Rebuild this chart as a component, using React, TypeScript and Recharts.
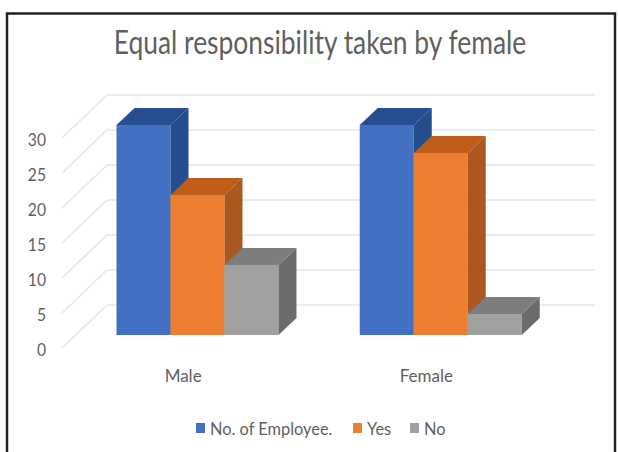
import React from 'react';
import { BarChart, Bar, XAxis, YAxis, CartesianGrid, Legend } from 'recharts';

const categories = ['Male', 'Female'];
const employees = [30, 30];
const yes = [20, 26];
const no = [10, 3];
const yTicks = [0, 5, 10, 15, 20, 25, 30];

const seriesNames = ['No. of Employee.', 'Yes', 'No'];
const seriesColors = [
  { front: '#4270c2', top: '#264f92', side: '#254c8c' },
  { front: '#ed7d31', top: '#c05c17', side: '#ab5820' },
  { front: '#a0a0a0', top: '#7d7d7d', side: '#6c6c6c' },
];

const data = categories.map((name, i) => ({
  name,
  employees: employees[i],
  yes: yes[i],
  no: no[i],
}));

const FONT = 'Lato, sans-serif';
const TEXT = '#5f5f5f';
const DEPTH_X = 18;
const DEPTH_Y = 17;

// front face plus the top and right faces of the extruded column
function Column3D({ x, y, width, height, colors }: any) {
  const r = x + width;
  const b = y + height;
  return (
    <g>
      <rect x={x} y={y} width={width} height={height} fill={colors.front} />
      <polygon
        points={`${x},${y} ${x + DEPTH_X},${y - DEPTH_Y} ${r + DEPTH_X},${y - DEPTH_Y} ${r},${y}`}
        fill={colors.top}
      />
      <polygon
        points={`${r},${y} ${r + DEPTH_X},${y - DEPTH_Y} ${r + DEPTH_X},${b - DEPTH_Y} ${r},${b}`}
        fill={colors.side}
      />
    </g>
  );
}

// side wall diagonal and back wall line for one gridline
function WallLine({ y1 }: any) {
  return (
    <g stroke="#e6e6e6" strokeWidth={1.5} fill="none">
      <line x1={62} y1={y1 + 13} x2={107} y2={y1 - 30} />
      <line x1={107} y1={y1 - 30} x2={595} y2={y1 - 30} />
    </g>
  );
}

function YTick({ y, payload }: any) {
  return (
    <text
      transform={`translate(46,${y + 14}) scale(0.87,1)`}
      textAnchor="end"
      dominantBaseline="central"
      fontFamily={FONT}
      fontSize={18}
      fill={TEXT}
    >
      {payload.value}
    </text>
  );
}

function XTick({ x, payload }: any) {
  return (
    <text x={x - 15} y={375} textAnchor="middle" dominantBaseline="central" fontFamily={FONT} fontSize={17} fill={TEXT}>
      {payload.value}
    </text>
  );
}

function LegendRow() {
  const lefts = [196, 353, 410];
  return (
    <div style={{ position: 'relative', height: 26, fontFamily: FONT, fontSize: 18, color: TEXT }}>
      {seriesNames.map((name, i) => (
        <div key={name} style={{ position: 'absolute', left: lefts[i], top: 0, height: 26, display: 'flex', alignItems: 'center', whiteSpace: 'nowrap' }}>
          <span style={{ width: 9, height: 10, marginRight: 5, background: seriesColors[i].front }} />
          <span style={{ display: 'inline-block', transform: 'scaleX(0.91)', transformOrigin: 'left center' }}>{name}</span>
        </div>
      ))}
    </div>
  );
}

export default function App() {
  return (
    <div style={{ position: 'absolute', left: 0, top: 0, width: 618, height: 452, background: '#fff', overflow: 'hidden' }}>
      <BarChart
        width={618}
        height={452}
        data={data}
        barGap={0}
        barCategoryGap={40}
        margin={{ top: 125, right: 55, bottom: 11, left: 0 }}
      >
        <rect x={7} y={13.5} width={608} height={460} fill="none" stroke="#222" strokeWidth={2.5} />
        <text
          transform="translate(320,41) scale(0.8,1)"
          textAnchor="middle"
          dominantBaseline="central"
          fontFamily={FONT}
          fontSize={33}
          fill={TEXT}
        >
          Equal responsibility taken by female
        </text>
        <CartesianGrid vertical={false} horizontal={(props: any) => <WallLine key={props.y1} {...props} />} />
        <XAxis dataKey="name" height={80} axisLine={false} tickLine={false} tick={<XTick />} />
        <YAxis width={76.5} domain={[0, 30]} ticks={yTicks} interval={0} axisLine={false} tickLine={false} tick={<YTick />} />
        <Legend height={26} verticalAlign="bottom" wrapperStyle={{ left: 0, width: 618 }} content={<LegendRow />} />
        <Bar dataKey="employees" isAnimationActive={false} shape={(p: any) => <Column3D {...p} colors={seriesColors[0]} />} />
        <Bar dataKey="yes" isAnimationActive={false} shape={(p: any) => <Column3D {...p} colors={seriesColors[1]} />} />
        <Bar dataKey="no" isAnimationActive={false} shape={(p: any) => <Column3D {...p} colors={seriesColors[2]} />} />
      </BarChart>
    </div>
  );
}
